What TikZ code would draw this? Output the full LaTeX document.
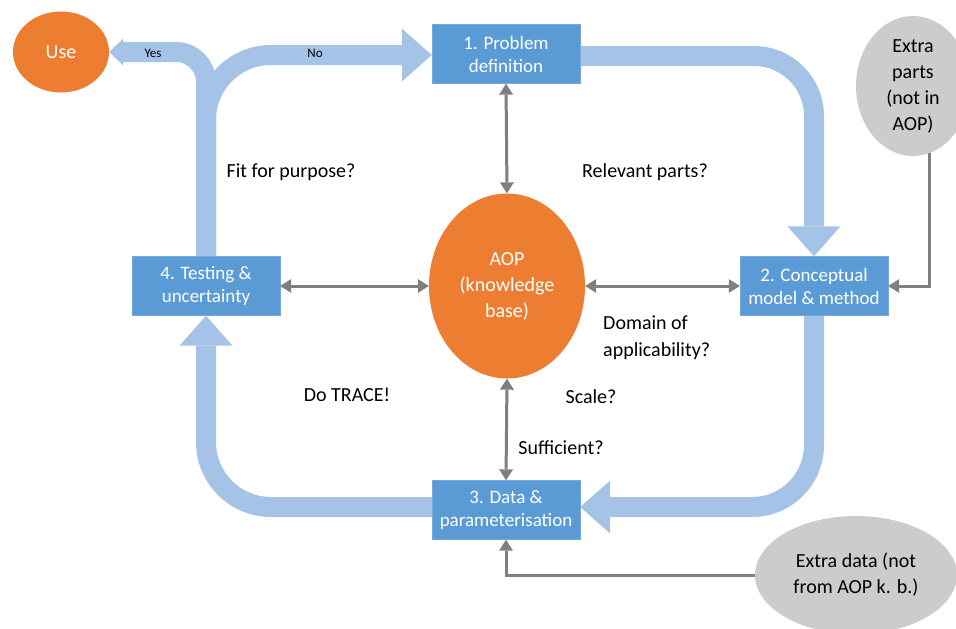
\documentclass[tikz,border=0pt]{standalone}
\usepackage{fontspec}
\setmainfont{Carlito}
\usetikzlibrary{shapes.geometric,arrows.meta}
\definecolor{boxblue}{HTML}{5B9BD5}
\definecolor{aorange}{HTML}{ED7D31}
\definecolor{flowblue}{HTML}{A4C3E7}
\definecolor{lgray}{HTML}{7F7F7F}
\definecolor{egray}{HTML}{CCCCCC}
\pgfdeclarelayer{bg}
\pgfsetlayers{bg,main}
\begin{document}
\begin{tikzpicture}[x=1pt,y=-1pt,
 stepbox/.style={rectangle, fill=boxblue, draw=boxblue!85!white, minimum width=148pt, minimum height=59pt, inner sep=0pt, text=white, align=center, font=\fontsize{19}{23}\selectfont},
 orangeell/.style={ellipse, fill=aorange, inner sep=0pt, text=white, align=center, font=\fontsize{20}{26}\selectfont},
 grayell/.style={ellipse, fill=egray, inner sep=0pt, text=black, align=center, font=\fontsize{20}{26}\selectfont},
 lbl/.style={font=\fontsize{20}{27}\selectfont, align=left, inner sep=0pt},
 yn/.style={font=\fontsize{13}{15}\selectfont, inner sep=0pt},
 flow/.style={draw=flowblue, line width=20pt},
 bigtip/.style={-{Triangle[length=30pt,width=53pt,line width=0pt]}},
 smalltip/.style={-{Triangle[length=14pt,width=27pt,line width=0pt]}},
 link/.style={draw=lgray, line width=3pt},
 onetip/.style={-{Triangle[length=11pt,width=14pt,line width=0pt]}},
 twotip/.style={{Triangle[length=11pt,width=14pt,line width=0pt]}-{Triangle[length=11pt,width=14pt,line width=0pt]}}
]
\useasboundingbox (0,0) rectangle (956,629);

% main nodes
\node[stepbox] (b1) at (506,54) {1. Problem\\definition};
\node[stepbox] (b2) at (814,286) {2. Conceptual\\model \& method};
\node[stepbox] (b3) at (506,510) {3. Data \&\\parameterisation};
\node[stepbox] (b4) at (206,286) {4. Testing \&\\uncertainty};
\node[orangeell, minimum width=156pt, minimum height=185pt] (aop) at (507,286) {AOP\\(knowledge\\base)};
\node[orangeell, minimum width=96pt, minimum height=81pt] (use) at (61,52) {Use};
\node[grayell, minimum width=114pt, minimum height=140pt] (ep) at (913,86) {Extra\\parts\\(not in\\AOP)};
\node[grayell, minimum width=202pt, minimum height=118pt] (ed) at (856,575) {Extra data (not\\from AOP k. b.)};

% labels
\node[lbl] (q1) at (291,172) {Fit for purpose?};
\node[lbl] (q2) at (645,172) {Relevant parts?};
\node[lbl, anchor=west] (q3) at (603,338) {Domain of\\applicability?};
\node[lbl] (q4) at (591,397) {Scale?};
\node[lbl] (q5) at (561,448) {Sufficient?};
\node[lbl] (q6) at (347,395) {Do TRACE!};

% big flow arrows
\begin{pgfonlayer}{bg}
\draw[flow, bigtip, rounded corners=60pt] ([yshift=-2pt]b1.east) -| (b2.north);
\draw[flow, bigtip, rounded corners=62pt] (b2.south) |- ([yshift=3pt]b3.east);
\draw[flow, bigtip, rounded corners=65pt] ([yshift=3pt]b3.west) -| (b4.south);
\draw[flow, bigtip, rounded corners=65pt] (b4.north) |- ([yshift=-1pt]b1.west);
\draw[flow, smalltip, rounded corners=30pt] (b4.north) |- (use.east);
\end{pgfonlayer}
\node[yn] (yes) at (153,53) {Yes};
\node[yn] (no) at (315,53) {No};

% gray connectors
\draw[link, twotip] (b1.south) -- (aop.north);
\draw[link, twotip] (aop.south) -- (b3.north);
\draw[link, twotip] (b4.east) -- (aop.west);
\draw[link, twotip] (aop.east) -- (b2.west);
\draw[link, onetip] (ep.-76) |- (b2.east);
\draw[link, onetip] (ed.west) -| (b3.south);
\end{tikzpicture}
\end{document}
